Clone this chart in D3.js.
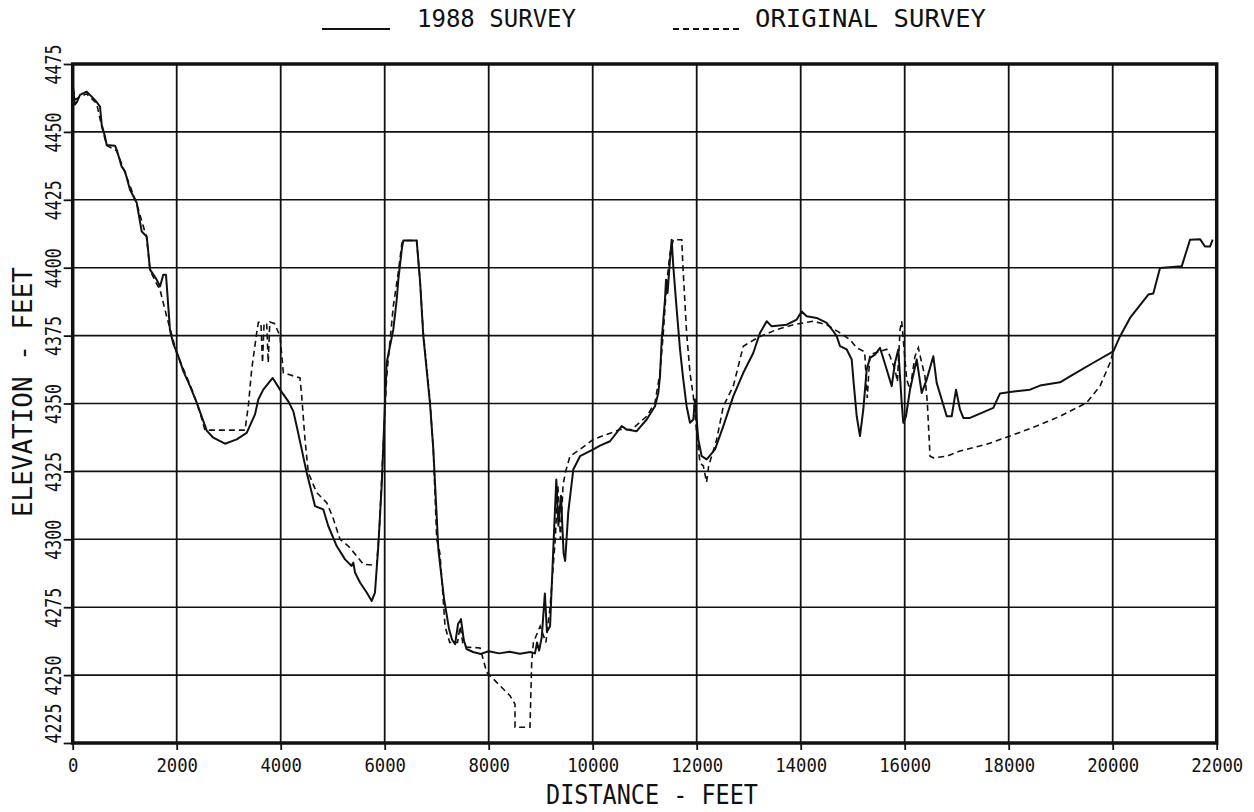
<!DOCTYPE html>
<html>
<head>
<meta charset="utf-8">
<script src="https://d3js.org/d3.v7.min.js"></script>
<style>
  body { margin: 0; background: #fff; }
  text { font-family: "DejaVu Sans Mono", "Liberation Mono", monospace; fill: #111; }
</style>
</head>
<body>
<div id="drawing"></div>
<script>
// tick values
var xTicks = [0, 2000, 4000, 6000, 8000, 10000, 12000, 14000, 16000, 18000, 20000, 22000];
var yTicks = [4225, 4250, 4275, 4300, 4325, 4350, 4375, 4400, 4425, 4450, 4475];

// 1988 survey (solid)
var surveyDist = [0, 40, 80, 140, 270, 365, 460, 525, 558, 621, 654, 813, 846, 942, 1006, 1102, 1231, 1327, 1423, 1487,
  1615, 1679, 1742, 1794, 1819, 1871, 1935, 2031, 2127, 2256, 2385, 2512, 2577, 2704, 2929, 3154, 3346, 3506, 3569, 3665,
  3846, 3987, 4146, 4242, 4308, 4404, 4500, 4596, 4660, 4819, 4915, 5077, 5237, 5365, 5396, 5429, 5525, 5654, 5750, 5813,
  5877, 5942, 6006, 6038, 6165, 6231, 6262, 6330, 6358, 6615, 6680, 6742, 6871, 6935, 7033, 7142, 7237, 7296, 7354, 7410,
  7467, 7520, 7573, 7700, 7850, 8000, 8200, 8400, 8600, 8800, 8890, 8930, 8970, 9020, 9080, 9120, 9180, 9250, 9300, 9340,
  9390, 9440, 9470, 9530, 9627, 9756, 10012, 10140, 10333, 10558, 10654, 10846, 11038, 11198, 11262, 11294, 11327, 11390, 11410, 11440,
  11487, 11519, 11550, 11615, 11679, 11742, 11806, 11871, 11935, 11967, 12000, 12031, 12096, 12192, 12352, 12512, 12704, 12896, 13088, 13217,
  13346, 13442, 13731, 13923, 14019, 14115, 14308, 14500, 14627, 14692, 14756, 14885, 14981, 15013, 15077, 15140, 15204, 15269, 15333, 15429,
  15525, 15654, 15750, 15813, 15877, 15942, 15973, 16025, 16102, 16231, 16327, 16423, 16550, 16615, 16712, 16808, 16904, 16987, 17063, 17127,
  17256, 17704, 17833, 18025, 18410, 18602, 18987, 19244, 19627, 20012, 20140, 20333, 20685, 20781, 20910, 21327, 21487, 21679, 21775, 21871, 21923];
var surveyElev = [4468, 4460, 4461, 4463.6, 4464.8, 4463, 4461, 4459.3, 4452.6, 4448.3, 4445.2, 4444.9, 4443.4, 4437.2, 4435.4, 4428.7, 4423.9, 4413.3, 4411.5, 4399.3,
  4395.6, 4393.1, 4397.4, 4397.4, 4390.8, 4377, 4372, 4367.4, 4361.9, 4356.4, 4350.3, 4343.5, 4340, 4337.4, 4335.2, 4336.8, 4339.2, 4346, 4351.5, 4355.1,
  4359.4, 4355.1, 4350.8, 4347.2, 4341.6, 4333.1, 4324.5, 4317.2, 4312.2, 4311, 4304.9, 4297.5, 4292.6, 4290.2, 4291.4, 4287.8, 4284.1, 4280.4, 4277.3, 4280.4,
  4297.5, 4319.6, 4350.3, 4365, 4377.2, 4388.2, 4395.6, 4407, 4410, 4410, 4395, 4375, 4350, 4333, 4296, 4278, 4267, 4263, 4261.4, 4268.8,
  4270.6, 4263, 4259.6, 4258.5, 4257.8, 4258.8, 4258, 4258.6, 4257.9, 4258.5, 4258, 4262, 4259, 4264, 4280, 4266, 4268, 4300, 4322, 4305,
  4316, 4295, 4292, 4310, 4325.7, 4330.6, 4333.1, 4334.5, 4336.1, 4341.7, 4340.4, 4339.8, 4344.1, 4349, 4353.9, 4360, 4373.5, 4388.2, 4395.6, 4390.7,
  4403, 4410.3, 4400.5, 4384.6, 4369.9, 4358.8, 4349, 4342.9, 4344.1, 4351.5, 4344, 4336.8, 4330.6, 4329.4, 4333.1, 4341.7, 4352.7, 4361.3, 4368.6, 4376,
  4380.3, 4378.4, 4379, 4380.9, 4383.9, 4382.1, 4381.5, 4379.7, 4376.6, 4374.8, 4371.1, 4369.9, 4366.2, 4358.8, 4345.3, 4338, 4347.8, 4362.5, 4366.8, 4368,
  4370.5, 4362.5, 4356.4, 4365, 4369.9, 4350.3, 4342.9, 4345.3, 4355.1, 4366.2, 4353.9, 4358.8, 4367.4, 4357.6, 4351.5, 4345.3, 4345.3, 4355.1, 4347.8, 4344.7,
  4344.7, 4348.4, 4353.7, 4354.2, 4355.1, 4356.6, 4357.8, 4360.7, 4365, 4369.2, 4374.7, 4381.5, 4390.1, 4390.5, 4399.9, 4400.5, 4410.3, 4410.5, 4407.8, 4407.8, 4410.3];

// original survey (dashed)
var origDist = [0, 60, 140, 270, 460, 558, 654, 846, 1006, 1231, 1423, 1487, 1615, 1679, 1808, 2000, 2160, 2319, 2448, 2544,
  3313, 3377, 3442, 3538, 3571, 3620, 3650, 3680, 3730, 3760, 3790, 3880, 3987, 4051, 4371, 4404, 4467, 4531, 4692, 4885,
  5012, 5140, 5300, 5461, 5588, 5846, 5900, 5960, 6038, 6165, 6260, 6330, 6358, 6615, 6680, 6742, 6871, 6935, 7000, 7060,
  7100, 7160, 7250, 7400, 7450, 7500, 7577, 7834, 7962, 8025, 8217, 8410, 8506, 8506, 8794, 8827, 8860, 8990, 9100, 9180,
  9280, 9330, 9380, 9430, 9480, 9563, 9756, 10012, 10269, 10525, 10750, 11038, 11198, 11294, 11358, 11423, 11487, 11550, 11712, 11742,
  11806, 11871, 11935, 12000, 12063, 12127, 12190, 12230, 12385, 12512, 12704, 12896, 13217, 13538, 13858, 14243, 14500, 14756, 14948, 15077,
  15230, 15280, 15330, 15654, 15718, 15813, 15860, 15910, 15942, 15973, 16038, 16102, 16198, 16262, 16327, 16390, 16435, 16487, 16550, 16808,
  17063, 17577, 18025, 18538, 18987, 19500, 19756, 19948, 20012];
var origElev = [4466, 4462, 4463, 4464, 4460.5, 4452, 4445, 4443, 4435, 4423.5, 4411, 4399, 4394, 4391.9, 4382, 4368.6, 4361.3, 4353.9, 4346.6, 4340.2,
  4340.2, 4349, 4362.5, 4376, 4379.9, 4379.9, 4365, 4379.5, 4379.5, 4365, 4380, 4379.5, 4374.8, 4361.3, 4359.4, 4352.7, 4336.8, 4324.5, 4317.2, 4313.5,
  4307.6, 4300, 4297.5, 4293.9, 4290.8, 4290.4, 4305, 4330, 4360, 4385.8, 4398, 4409, 4410, 4410, 4395, 4376, 4351, 4333, 4300, 4295,
  4285, 4268, 4262, 4262, 4268, 4262, 4260.3, 4260, 4251, 4249.8, 4246.1, 4242.4, 4239.3, 4230.8, 4230.8, 4254.7, 4262, 4268, 4262, 4275,
  4300, 4320, 4300, 4320, 4325, 4330.6, 4333.1, 4336.8, 4338.6, 4340.4, 4340.4, 4345.3, 4350.3, 4361.3, 4376, 4394.4, 4405.4, 4410.3, 4410.3, 4398,
  4376, 4361.3, 4352.7, 4339.2, 4328.2, 4327, 4321, 4327, 4336.8, 4349, 4356.4, 4371.1, 4374.7, 4377.2, 4379, 4380.3, 4379, 4376, 4373.5, 4370.5,
  4369, 4352, 4368, 4370, 4367.4, 4362.5, 4358, 4377.2, 4380.3, 4373.5, 4358.8, 4355.1, 4367.4, 4370.5, 4365, 4360, 4350.3, 4330.6, 4330, 4330.6,
  4332.5, 4335, 4338, 4341.7, 4345.3, 4350.3, 4356.4, 4365, 4369.2];

var m = {l: 72.7, r: 37.3, t: 64, b: 69},
    W = 1254, H = 812,
    w = W - m.l - m.r,
    h = H - m.t - m.b;

var svg = d3.select("#drawing")
  .append("svg")
  .attr("width", W)
  .attr("height", H);

var g = svg.append("g")
  .attr("transform", "translate(" + m.l + "," + m.t + ")");

var x = d3.scaleLinear().domain([0, 22000]).range([0, w]);
var y = d3.scaleLinear().domain([4225, 4475]).range([h, 0]);

// grid
g.selectAll(".vgrid").data(xTicks).enter().append("line")
  .attr("x1", d => x(d)).attr("x2", d => x(d))
  .attr("y1", 0).attr("y2", h)
  .attr("stroke", "#111").attr("stroke-width", 1.8);
g.selectAll(".hgrid").data(yTicks).enter().append("line")
  .attr("x1", 0).attr("x2", w)
  .attr("y1", d => y(d)).attr("y2", d => y(d))
  .attr("stroke", "#111").attr("stroke-width", 1.6);

// axes
var xAxis = g.append("g")
  .attr("transform", "translate(0," + h + ")")
  .call(d3.axisBottom(x).tickValues(xTicks).tickSize(7).tickSizeOuter(0).tickFormat(d3.format("d")));
xAxis.select(".domain").remove();
xAxis.selectAll("line").attr("stroke", "#111").attr("stroke-width", 1.8);
xAxis.selectAll("text")
  .attr("y", 15).attr("dy", "0.71em")
  .style("font-size", "20px")
  .attr("textLength", d => String(d).length * 10.4)
  .attr("lengthAdjust", "spacingAndGlyphs");

var yAxis = g.append("g")
  .call(d3.axisLeft(y).tickValues(yTicks).tickSize(9).tickSizeOuter(0).tickFormat(d3.format("d")));
yAxis.select(".domain").remove();
yAxis.selectAll("line").attr("stroke", "#111").attr("stroke-width", 1.8);
yAxis.selectAll("text")
  .attr("transform", "rotate(-90)")
  .attr("x", 0).attr("y", -12).attr("dy", 0)
  .attr("text-anchor", d => d === 4225 ? "start" : "middle")
  .style("font-size", "21px")
  .attr("textLength", d => String(d).length * 10)
  .attr("lengthAdjust", "spacingAndGlyphs");

// lines
var line = d3.line().x(d => x(d[0])).y(d => y(d[1]));

g.append("path")
  .datum(d3.zip(origDist, origElev))
  .attr("d", line)
  .attr("fill", "none").attr("stroke", "#111")
  .attr("stroke-width", 1.6).attr("stroke-dasharray", "6,4");

g.append("path")
  .datum(d3.zip(surveyDist, surveyElev))
  .attr("d", line)
  .attr("fill", "none").attr("stroke", "#111")
  .attr("stroke-width", 2).attr("stroke-linejoin", "round");

// frame
g.append("rect")
  .attr("width", w).attr("height", h)
  .attr("fill", "none").attr("stroke", "#111").attr("stroke-width", 3.5);

// axis titles
svg.append("text")
  .attr("x", 652).attr("y", 804)
  .attr("text-anchor", "middle")
  .style("font-size", "26px")
  .attr("textLength", 212).attr("lengthAdjust", "spacingAndGlyphs")
  .text("DISTANCE - FEET");

svg.append("text")
  .attr("transform", "translate(32,392) rotate(-90)")
  .attr("text-anchor", "middle")
  .style("font-size", "26px")
  .attr("textLength", 250).attr("lengthAdjust", "spacingAndGlyphs")
  .text("ELEVATION - FEET");

// legend
svg.append("line")
  .attr("x1", 322).attr("x2", 390).attr("y1", 29).attr("y2", 29)
  .attr("stroke", "#111").attr("stroke-width", 1.8);
svg.append("text")
  .attr("x", 417).attr("y", 27)
  .style("font-size", "24px")
  .attr("textLength", 159).attr("lengthAdjust", "spacingAndGlyphs")
  .text("1988 SURVEY");
svg.append("line")
  .attr("x1", 673).attr("x2", 743).attr("y1", 29).attr("y2", 29)
  .attr("stroke", "#111").attr("stroke-width", 1.8).attr("stroke-dasharray", "6,4");
svg.append("text")
  .attr("x", 755).attr("y", 27)
  .style("font-size", "24px")
  .attr("textLength", 231).attr("lengthAdjust", "spacingAndGlyphs")
  .text("ORIGINAL SURVEY");
</script>
</body>
</html>
